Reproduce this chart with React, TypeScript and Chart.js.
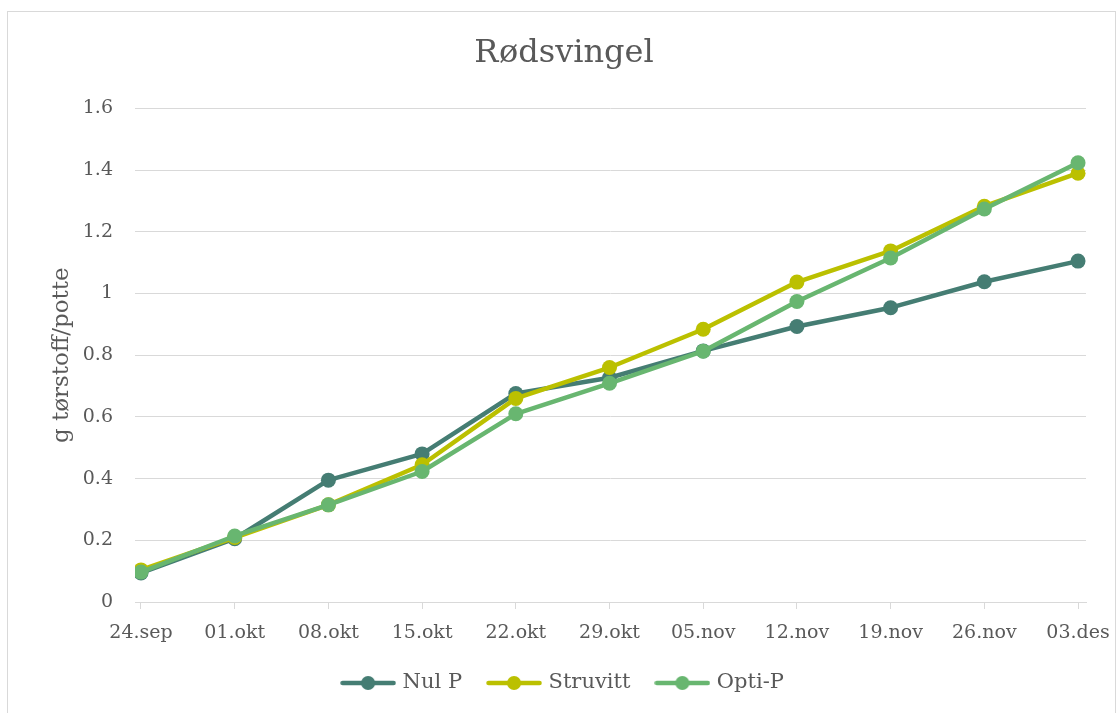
import React, { useEffect, useRef } from "react";
import { Chart, registerables } from "chart.js";

Chart.register(...registerables);

const categories = ["24.sep", "01.okt", "08.okt", "15.okt", "22.okt", "29.okt", "05.nov", "12.nov", "19.nov", "26.nov", "03.des"];
const seriesNames = ["Nul P", "Struvitt", "Opti-P"];
const nulP = [0.094, 0.205, 0.395, 0.48, 0.676, 0.727, 0.814, 0.893, 0.954, 1.038, 1.105];
const struvitt = [0.104, 0.209, 0.315, 0.445, 0.66, 0.76, 0.884, 1.037, 1.138, 1.283, 1.39];
const optiP = [0.097, 0.214, 0.315, 0.423, 0.61, 0.709, 0.813, 0.974, 1.115, 1.274, 1.424];
const yTicks = [0, 0.2, 0.4, 0.6, 0.8, 1, 1.2, 1.4, 1.6];

const colors = ["#457D73", "#BBC000", "#68B670"];
const textColor = "#595959";
const gridColor = "#D9D9D9";
const FONT = "'DejaVu Serif', serif";

function makeSample(color: string): HTMLCanvasElement {
  const c = document.createElement("canvas");
  c.width = 56;
  c.height = 16;
  const g = c.getContext("2d")!;
  g.strokeStyle = color;
  g.lineWidth = 4.5;
  g.lineCap = "round";
  g.beginPath();
  g.moveTo(2.5, 8);
  g.lineTo(53.5, 8);
  g.stroke();
  g.fillStyle = color;
  g.beginPath();
  g.arc(28, 8, 7, 0, Math.PI * 2);
  g.fill();
  return c;
}

export default function App() {
  const ref = useRef<HTMLCanvasElement | null>(null);

  useEffect(() => {
    if (!ref.current) return;
    const values = [nulP, struvitt, optiP];
    const samples = colors.map(makeSample);
    const datasets = seriesNames.map((name, si) => ({
      label: name,
      data: values[si].map((v, i) => ({ x: i, y: v })),
      borderColor: colors[si],
      backgroundColor: colors[si],
      pointBackgroundColor: colors[si],
      pointBorderColor: colors[si],
      pointBorderWidth: 0,
      pointRadius: 7.5,
      pointHoverRadius: 7.5,
      borderWidth: 4.5,
      borderJoinStyle: "round" as const,
      borderCapStyle: "round" as const,
      tension: 0,
      order: 3 - si,
    }));

    const chart = new Chart(ref.current, {
      type: "line",
      data: { datasets },
      options: {
        animation: false,
        responsive: false,
        devicePixelRatio: 1,
        layout: { padding: { left: 34, right: 29, top: 0, bottom: 9.5 } },
        plugins: {
          tooltip: { enabled: false },
          title: {
            display: true,
            text: "Rødsvingel",
            color: textColor,
            font: { family: FONT, size: 32, weight: "normal" },
            padding: { top: 22, bottom: 36 },
          },
          legend: {
            position: "bottom",
            labels: {
              usePointStyle: true,
              pointStyleWidth: 48,
              color: textColor,
              font: { family: FONT, size: 21 },
              padding: 28,
              generateLabels: () =>
                seriesNames.map((name, i) => ({
                  text: name,
                  fillStyle: colors[i],
                  strokeStyle: colors[i],
                  lineWidth: 0,
                  pointStyle: samples[i],
                  hidden: false,
                  datasetIndex: i,
                  fontColor: textColor,
                })) as any,
            },
          },
        },
        scales: {
          x: {
            type: "linear",
            min: -0.064,
            max: 10.085,
            afterBuildTicks: (scale: any) => {
              scale.ticks = categories.map((_, i) => ({ value: i }));
            },
            afterFit: (scale: any) => {
              scale.height = 42.5;
              scale.paddingLeft = 0;
              scale.paddingRight = 0;
            },
            ticks: {
              autoSkip: false,
              maxRotation: 0,
              color: textColor,
              font: { family: FONT, size: 19 },
              padding: 13,
              callback: (v: any) => categories[Math.round(Number(v))] ?? "",
            },
            grid: { drawOnChartArea: false, drawTicks: true, tickLength: 7, color: gridColor },
            border: { color: gridColor, width: 1 },
          },
          y: {
            min: 0,
            max: 1.6,
            afterBuildTicks: (scale: any) => {
              scale.ticks = yTicks.map((v) => ({ value: v }));
            },
            afterFit: (scale: any) => {
              scale.width = 93;
              scale.paddingTop = 0;
              scale.paddingBottom = 0;
            },
            ticks: {
              color: textColor,
              font: { family: FONT, size: 19 },
              padding: 22,
              callback: (v: any) => String(Number(Number(v).toFixed(1))),
            },
            grid: { color: gridColor, drawTicks: false, lineWidth: 1 },
            border: { display: false },
            title: {
              display: true,
              text: "g tørstoff/potte",
              color: textColor,
              font: { family: FONT, size: 23 },
              padding: { top: 6, bottom: 0 },
            },
          },
        },
      },
    });
    return () => chart.destroy();
  }, []);

  return (
    <div
      style={{
        position: "absolute",
        left: 7,
        top: 11,
        width: 1109,
        height: 702,
        border: "1px solid #D9D9D9",
        borderBottom: "none",
        boxSizing: "border-box",
        background: "#fff",
      }}
    >
      <canvas ref={ref} width={1107} height={701} style={{ display: "block" }} />
    </div>
  );
}
